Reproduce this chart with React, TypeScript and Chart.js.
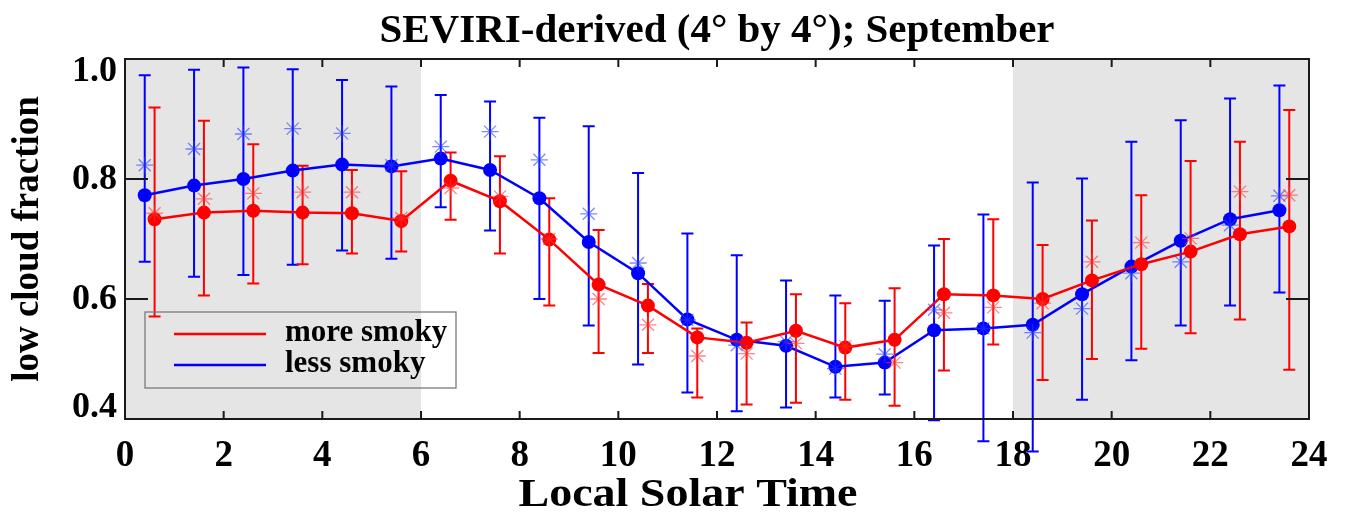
import React, { useEffect, useRef } from "react";
import { Chart, registerables } from "chart.js";

Chart.register(...registerables);

// ---- data ----
const titleText = "SEVIRI-derived (4° by 4°); September";
const xTitle = "Local Solar Time";
const yTitle = "low cloud fraction";
const seriesLabels = ["more smoky", "less smoky"];

const xTicks = [0, 2, 4, 6, 8, 10, 12, 14, 16, 18, 20, 22, 24];
const yTicks = [0.4, 0.6, 0.8, 1.0];
const shadedBands = [
  [0, 6],
  [18, 24],
];

// hour positions of the two series (slightly offset from each other)
const moreTimes = [0.6, 1.6, 2.6, 3.6, 4.6, 5.6, 6.6, 7.6, 8.6, 9.6, 10.6, 11.6, 12.6, 13.6, 14.6, 15.6, 16.6, 17.6, 18.6, 19.6, 20.6, 21.6, 22.6, 23.6];
const lessTimes = [0.4, 1.4, 2.4, 3.4, 4.4, 5.4, 6.4, 7.4, 8.4, 9.4, 10.4, 11.4, 12.4, 13.4, 14.4, 15.4, 16.4, 17.4, 18.4, 19.4, 20.4, 21.4, 22.4, 23.4];

// more smoky (red)
const moreMean = [0.733, 0.744, 0.747, 0.744, 0.743, 0.730, 0.797, 0.763, 0.699, 0.624, 0.589, 0.536, 0.527, 0.547, 0.519, 0.532, 0.608, 0.606, 0.600, 0.631, 0.658, 0.679, 0.708, 0.721];
const moreUpper = [0.919, 0.897, 0.858, 0.822, 0.815, 0.813, 0.844, 0.838, 0.768, 0.715, 0.625, 0.551, 0.561, 0.608, 0.593, 0.618, 0.700, 0.733, 0.690, 0.731, 0.773, 0.830, 0.862, 0.915];
const moreLower = [0.571, 0.606, 0.626, 0.658, 0.676, 0.679, 0.732, 0.676, 0.589, 0.510, 0.510, 0.436, 0.424, 0.427, 0.432, 0.422, 0.481, 0.524, 0.465, 0.500, 0.517, 0.543, 0.566, 0.482];
const moreStar = [0.743, 0.767, 0.776, 0.778, 0.778, 0.735, 0.785, 0.771, 0.700, 0.600, 0.557, 0.505, 0.509, 0.526, 0.521, 0.494, 0.577, 0.586, 0.593, 0.662, 0.694, 0.701, 0.779, 0.773];

// less smoky (blue)
const lessMean = [0.773, 0.789, 0.800, 0.814, 0.824, 0.821, 0.834, 0.815, 0.768, 0.695, 0.643, 0.566, 0.532, 0.522, 0.487, 0.494, 0.548, 0.551, 0.557, 0.608, 0.654, 0.697, 0.733, 0.748];
const lessUpper = [0.973, 0.982, 0.986, 0.983, 0.965, 0.954, 0.940, 0.929, 0.902, 0.888, 0.810, 0.709, 0.673, 0.631, 0.606, 0.597, 0.689, 0.741, 0.794, 0.801, 0.862, 0.898, 0.934, 0.956];
const lessLower = [0.662, 0.637, 0.640, 0.657, 0.681, 0.667, 0.753, 0.714, 0.600, 0.556, 0.491, 0.444, 0.413, 0.419, 0.436, 0.441, 0.398, 0.363, 0.346, 0.432, 0.498, 0.556, 0.589, 0.611];
const lessStar = [0.823, 0.850, 0.875, 0.884, 0.876, 0.823, 0.854, 0.879, 0.832, 0.742, 0.660, 0.565, 0.523, 0.529, 0.484, 0.508, 0.582, 0.551, 0.544, 0.584, 0.643, 0.662, 0.723, 0.772];

// ---- styles ----
const FONT = '"Liberation Serif", "Times New Roman", Times, serif';
const RED = "rgb(255,0,0)";
const BLUE = "rgb(0,0,255)";
const RED_STAR = "rgba(255,50,50,0.6)";
const BLUE_STAR = "rgba(40,60,255,0.6)";
const BAND = "#e5e5e5";

const pts = (xs: number[], ys: number[]) => xs.map((x, i) => ({ x, y: ys[i] }));

const decor = {
  id: "decor",
  beforeDatasetsDraw(chart: any) {
    const { ctx, chartArea, scales } = chart;
    const { top, bottom } = chartArea;
    const xs = scales.x;
    const ys = scales.y;
    ctx.save();
    ctx.fillStyle = BAND;
    for (const [a, b] of shadedBands) {
      const x0 = xs.getPixelForValue(a);
      const x1 = xs.getPixelForValue(b);
      ctx.fillRect(x0, top, x1 - x0, bottom - top);
    }
    const bars = (times: number[], lo: number[], hi: number[], color: string) => {
      ctx.strokeStyle = color;
      ctx.lineWidth = 2;
      const cap = 6;
      times.forEach((t, i) => {
        const px = xs.getPixelForValue(t);
        const y0 = ys.getPixelForValue(lo[i]);
        const y1 = ys.getPixelForValue(hi[i]);
        ctx.beginPath();
        ctx.moveTo(px, y0);
        ctx.lineTo(px, y1);
        ctx.moveTo(px - cap, y0);
        ctx.lineTo(px + cap, y0);
        ctx.moveTo(px - cap, y1);
        ctx.lineTo(px + cap, y1);
        ctx.stroke();
      });
    };
    bars(lessTimes, lessLower, lessUpper, BLUE);
    bars(moreTimes, moreLower, moreUpper, RED);
    ctx.restore();
  },
  afterDatasetsDraw(chart: any) {
    const { ctx, chartArea, scales } = chart;
    const { left, right, top, bottom } = chartArea;
    const xs = scales.x;
    const ys = scales.y;
    ctx.save();
    // frame
    ctx.strokeStyle = "#1a1a1a";
    ctx.lineWidth = 2;
    ctx.strokeRect(left, top, right - left, bottom - top);
    // inside ticks
    ctx.beginPath();
    for (const v of xTicks) {
      const px = xs.getPixelForValue(v);
      ctx.moveTo(px, bottom);
      ctx.lineTo(px, bottom - 8);
      ctx.moveTo(px, top);
      ctx.lineTo(px, top + 8);
    }
    for (const v of yTicks) {
      const py = ys.getPixelForValue(v);
      ctx.moveTo(left, py);
      ctx.lineTo(left + 23, py);
      ctx.moveTo(right, py);
      ctx.lineTo(right - 23, py);
    }
    ctx.stroke();
    ctx.fillStyle = "#000";
    // title, centred over the plot area
    ctx.font = `bold 41px ${FONT}`;
    ctx.textAlign = "center";
    ctx.textBaseline = "alphabetic";
    ctx.fillText(titleText, (left + right) / 2, top - 17);
    // x axis title
    ctx.save();
    ctx.font = `bold 40px ${FONT}`;
    const tw = ctx.measureText(xTitle).width;
    const sx = 339 / tw;
    ctx.translate(left + 563, bottom + 87);
    ctx.scale(sx, 1);
    ctx.textAlign = "center";
    ctx.fillText(xTitle, 0, 0);
    ctx.restore();
    // y tick labels (kept inside the frame's vertical extent)
    ctx.font = `bold 36px ${FONT}`;
    ctx.textAlign = "right";
    ctx.textBaseline = "middle";
    for (const v of yTicks) {
      let py = ys.getPixelForValue(v);
      py = Math.min(Math.max(py, top + 12), bottom - 12);
      ctx.fillText(v.toFixed(1), left - 8, py + 1);
    }
    // legend
    const bx = left + 20;
    const by = top + 253;
    const bw = 311;
    const bh = 76;
    ctx.strokeStyle = "#7a7a7a";
    ctx.lineWidth = 1.3;
    ctx.strokeRect(bx, by, bw, bh);
    const colors = [RED, BLUE];
    ctx.font = `bold 31px ${FONT}`;
    ctx.textAlign = "left";
    seriesLabels.forEach((lab, i) => {
      const ly = by + 22 + i * 31;
      ctx.strokeStyle = colors[i];
      ctx.lineWidth = 2.5;
      ctx.beginPath();
      ctx.moveTo(bx + 29, ly);
      ctx.lineTo(bx + 121, ly);
      ctx.stroke();
      ctx.fillStyle = "#000";
      ctx.fillText(lab, bx + 140, ly - 1);
    });
    ctx.restore();
  },
};

export default function App() {
  const ref = useRef<HTMLCanvasElement | null>(null);
  useEffect(() => {
    if (!ref.current) return;
    const chart = new Chart(ref.current, {
      type: "scatter",
      data: {
        datasets: [
          {
            label: "more smoky (stars)",
            data: pts(moreTimes, moreStar),
            pointStyle: "star",
            pointRadius: 8.5,
            borderColor: RED_STAR,
            backgroundColor: RED_STAR,
            borderWidth: 1.3,
            showLine: false,
          },
          {
            label: "less smoky (stars)",
            data: pts(lessTimes, lessStar),
            pointStyle: "star",
            pointRadius: 8.5,
            borderColor: BLUE_STAR,
            backgroundColor: BLUE_STAR,
            borderWidth: 1.3,
            showLine: false,
          },
          {
            label: seriesLabels[0],
            data: pts(moreTimes, moreMean),
            showLine: true,
            borderColor: RED,
            backgroundColor: RED,
            borderWidth: 2.5,
            pointRadius: 7,
            pointBorderWidth: 0,
          },
          {
            label: seriesLabels[1],
            data: pts(lessTimes, lessMean),
            showLine: true,
            borderColor: BLUE,
            backgroundColor: BLUE,
            borderWidth: 2.5,
            pointRadius: 7,
            pointBorderWidth: 0,
          },
        ],
      },
      options: {
        responsive: false,
        animation: false,
        devicePixelRatio: 1,
        layout: { padding: { left: 0, right: 37, top: 59, bottom: 0 } },
        plugins: {
          legend: { display: false },
          tooltip: { enabled: false },
          title: { display: false },
        },
        scales: {
          x: {
            type: "linear",
            min: 0,
            max: 24,
            afterBuildTicks: (s: any) => {
              s.ticks = xTicks.map((v) => ({ value: v }));
            },
            afterFit: (s: any) => {
              s.height = 98;
            },
            ticks: {
              color: "#000",
              font: { family: FONT, size: 37, weight: "bold" },
              padding: 15,
              maxRotation: 0,
              autoSkip: false,
              callback: (v: any) => String(v),
            },
            grid: { display: false, drawTicks: false },
            border: { display: false },
            title: { display: false },
          },
          y: {
            type: "linear",
            min: 0.4,
            max: 1.0,
            afterBuildTicks: (s: any) => {
              s.ticks = yTicks.map((v) => ({ value: v }));
            },
            afterFit: (s: any) => {
              s.width = 125;
            },
            ticks: { display: false },
            grid: { display: false, drawTicks: false },
            border: { display: false },
            title: {
              display: true,
              text: yTitle,
              color: "#000",
              font: { family: FONT, size: 37, weight: "bold" },
              padding: { top: 6, bottom: 0 },
            },
          },
        },
      },
      plugins: [decor],
    } as any);
    return () => chart.destroy();
  }, []);
  return (
    <div style={{ position: "absolute", left: 0, top: 0, width: 1346, height: 517, background: "#fff" }}>
      <canvas ref={ref} width={1346} height={517} style={{ display: "block" }} />
    </div>
  );
}
